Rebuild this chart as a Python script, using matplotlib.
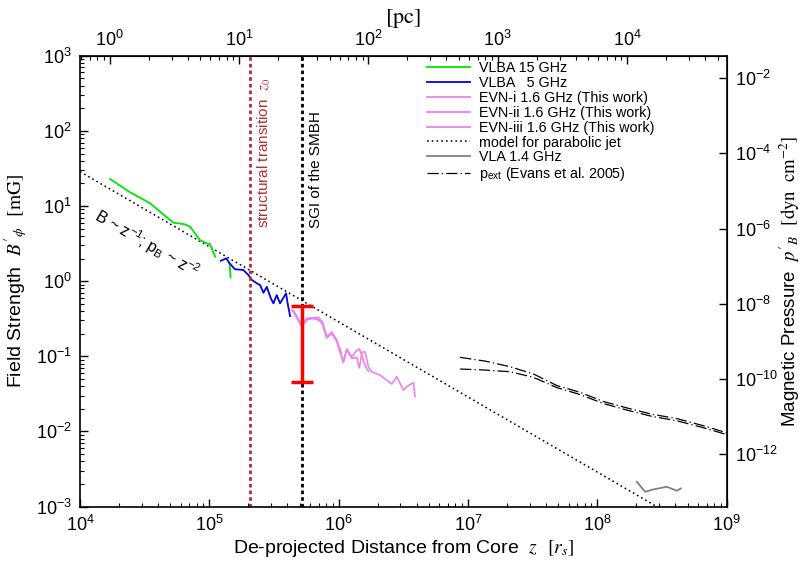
import numpy as np
import matplotlib
matplotlib.use("Agg")
import matplotlib.pyplot as plt
from matplotlib.ticker import LogLocator, NullLocator, FixedLocator
from matplotlib.lines import Line2D

plt.rcParams.update({
    "font.family": ["Liberation Sans", "DejaVu Sans"],
    "mathtext.fontset": "stix",
    "axes.unicode_minus": False,
})

# ---- data: distance z [r_s], toroidal field strength B'_phi [mG] ----
vlba15_z = [1.71e4, 2.44e4, 3.48e4, 4.16e4, 5.27e4, 6.49e4, 7.10e4, 8.47e4,
            9.55e4, 1.01e5, 1.11e5, np.nan, 1.43e5, 1.44e5, 1.46e5]
vlba15_B = [22.9, 15.2, 10.9, 8.4, 6.0, 5.7, 5.3, 3.52,
            3.18, 3.12, 2.11, np.nan, 1.73, 1.55, 1.12]

vlba5_z = [1.23e5, 1.35e5, 1.45e5, 1.58e5, 1.83e5, 2.00e5, 2.13e5, 2.33e5, 2.47e5,
           2.62e5, 2.78e5, 2.99e5, 3.13e5, 3.32e5, 3.52e5, 3.92e5, 4.01e5, 4.21e5]
vlba5_B = [1.87, 2.01, 1.69, 1.44, 1.41, 1.21, 1.04, 0.935, 0.887,
           0.70, 0.84, 0.59, 0.506, 0.653, 0.506, 0.689, 0.532, 0.343]

evn1_z = [4.40e5, 5.19e5, 5.66e5, 6.50e5, 7.45e5, 8.09e5, 8.85e5, 9.66e5, 1.05e6]
evn1_B = [0.41, 0.25, 0.31, 0.325, 0.28, 0.18, 0.205, 0.16, 0.11]

evn2_z = [4.50e5, 5.19e5, 5.66e5, 6.97e5, 7.45e5, 8.09e5, 8.85e5, 9.66e5, 1.086e6,
          1.156e6, 1.262e6, 1.38e6, 1.445e6, 1.517e6, 1.60e6, 1.698e6]
evn2_B = [0.40, 0.26, 0.32, 0.33, 0.29, 0.18, 0.21, 0.165, 0.085,
          0.125, 0.098, 0.12, 0.125, 0.10, 0.075, 0.063]

evn3_z = [4.335e5, 4.69e5, 5.19e5, 5.66e5, 6.22e5, 6.97e5, 7.45e5, 8.09e5, 8.85e5,
          9.66e5, 1.086e6, 1.156e6, 1.262e6, 1.380e6, 1.445e6, 1.517e6, 1.600e6,
          1.698e6, 1.803e6, 2.089e6, 2.576e6, 2.812e6, 3.162e6, 3.499e6, 3.784e6, 3.899e6]
evn3_B = [0.412, 0.343, 0.252, 0.303, 0.318, 0.310, 0.277, 0.175, 0.202,
          0.159, 0.0824, 0.123, 0.0938, 0.0966, 0.0697, 0.114, 0.114,
          0.0724, 0.0617, 0.0562, 0.0427, 0.0537, 0.0355, 0.0414, 0.0444, 0.0289]

vla_z = [2.02e8, 2.34e8, 2.72e8, 3.44e8, 4.12e8, 4.43e8]
vla_B = [2.13e-3, 1.57e-3, 1.69e-3, 1.83e-3, 1.62e-3, 1.74e-3]

# external pressure profiles [dyn cm^-2]
pext_z = [8.69e6, 1.355e7, 2.12e7, 3.21e7, 4.86e7, 7.36e7, 1.114e8, 1.742e8,
          2.64e8, 4.12e8, 6.62e8, 1.0e9]
pext_hi = [3.72e-10, 2.96e-10, 2.09e-10, 1.34e-10, 6.61e-11, 4.35e-11, 2.48e-11,
           1.63e-11, 1.14e-11, 8.71e-12, 5.62e-12, 3.65e-12]
pext_lo = [1.82e-10, 1.71e-10, 1.54e-10, 1.09e-10, 5.83e-11, 3.80e-11, 2.19e-11,
           1.43e-11, 1.00e-11, 7.62e-12, 4.97e-12, 3.27e-12]

# parabolic-jet model B ~ z^-1
model_z = [1e4, 1e9]
model_B = [28.7, 2.87e-4]

# markers
z_transition = 2.07e5
z_sgi = 5.18e5
sgi_B_lo, sgi_B_hi = 0.045, 0.46

RS_PER_PC = 1.7e4


def b_to_p(b):
    b = np.asarray(b, dtype=float)
    return (b * 1e-3) ** 2 / (8 * np.pi)


def p_to_b(p):
    p = np.abs(np.asarray(p, dtype=float))
    return np.sqrt(8 * np.pi * p) * 1e3


fig = plt.figure(figsize=(8.05, 5.66), dpi=100)
ax = fig.add_axes([80 / 805, 1 - 506.5 / 566, 646.7 / 805, 450.7 / 566])
ax.set_xscale("log")
ax.set_yscale("log")
ax.set_xlim(1e4, 1e9)
ax.set_ylim(1e-3, 1e3)

pink = "#ee82ee"
dotted = (0, (1.1, 2))
ax.plot(model_z, model_B, color="black", lw=1.1, ls=dotted)
ax.plot(vlba15_z, vlba15_B, color="#00e600", lw=1.3)
ax.plot(vlba5_z, vlba5_B, color="#0000e6", lw=1.3)
ax.plot(evn1_z, evn1_B, color=pink, lw=1.2)
ax.plot(evn2_z, evn2_B, color=pink, lw=1.2)
ax.plot(evn3_z, evn3_B, color=pink, lw=1.2)
ax.plot(vla_z, vla_B, color="#808080", lw=1.3)
dashdot = (0, (9, 2.5, 1, 2.5))
ax.plot(pext_z, p_to_b(pext_hi), color="black", lw=0.9, ls=dashdot)
ax.plot(pext_z, p_to_b(pext_lo), color="black", lw=0.9, ls=dashdot)

red_brown = "#b03030"
ax.axvline(z_transition, color=red_brown, lw=2.0, ls=(0, (1.3, 1.1)))
ax.axvline(z_sgi, color="black", lw=2.0, ls=(0, (1.3, 1.1)))

mid = np.sqrt(sgi_B_lo * sgi_B_hi)
ax.errorbar([z_sgi], [mid], yerr=[[mid - sgi_B_lo], [sgi_B_hi - mid]], fmt="none",
            ecolor="red", elinewidth=2.5, capsize=8, capthick=2.5, zorder=5)

trans = ax.get_xaxis_transform()
ax.text(2.65e5, 0.618, r"structural transition  $z_0$", rotation=90, transform=trans,
        ha="center", va="bottom", color=red_brown, fontsize=11)
ax.text(6.68e5, 0.618, "SGI of the SMBH", rotation=90, transform=trans,
        ha="center", va="bottom", color="black", fontsize=11)
ax.text(3.3e4, 3.2,
        r"B ~ z$^{\mathdefault{-1}}$; p$_{\mathdefault{B}}$ ~ z$^{\mathdefault{-2}}$",
        rotation=-30, rotation_mode="anchor", ha="center", va="center", fontsize=11.5)

ax.tick_params(which="both", direction="in", top=False, right=False, labelsize=13)
ax.tick_params(which="major", length=6, width=1.0, pad=6)
ax.tick_params(which="minor", length=3, width=0.8)
ax.xaxis.set_major_locator(LogLocator(base=10, numticks=20))
ax.xaxis.set_minor_locator(LogLocator(base=10, subs=np.arange(2, 10), numticks=20))
ax.yaxis.set_major_locator(LogLocator(base=10, numticks=20))
ax.yaxis.set_minor_locator(LogLocator(base=10, subs=np.arange(2, 10), numticks=20))
for s in ax.spines.values():
    s.set_linewidth(1.2)

ax.set_xlabel(r"De-projected Distance from Core  $z$  $[r_s]$", fontsize=14, labelpad=2)
ax.set_ylabel(r"Field Strength  $B'_{\phi}$  $[\mathrm{mG}]$", fontsize=14, labelpad=4)

top = ax.secondary_xaxis("top", functions=(lambda z: np.asarray(z) / RS_PER_PC,
                                            lambda pc: np.asarray(pc) * RS_PER_PC))
top.xaxis.set_major_locator(LogLocator(base=10, numticks=20))
top.xaxis.set_minor_locator(LogLocator(base=10, subs=np.arange(2, 10), numticks=20))
top.tick_params(which="both", direction="in", labelsize=13)
top.tick_params(which="major", length=6, width=1.0, pad=4)
top.tick_params(which="minor", length=3, width=0.8)
top.set_xlabel(r"$[\mathrm{pc}]$", fontsize=16, labelpad=5)

right = ax.secondary_yaxis("right", functions=(b_to_p, p_to_b))
right.yaxis.set_major_locator(FixedLocator([1e-2, 1e-4, 1e-6, 1e-8, 1e-10, 1e-12]))
right.yaxis.set_minor_locator(NullLocator())
right.tick_params(which="major", direction="in", length=6, width=1.0, labelsize=13, pad=6)
right.set_ylabel(r"Magnetic Pressure  $p'_B$  $[\mathrm{dyn\ \ cm}^{-2}]$", fontsize=13.5,
                 labelpad=0)

handles = [
    Line2D([], [], color="#00e600", lw=1.3),
    Line2D([], [], color="#0000e6", lw=1.3),
    Line2D([], [], color=pink, lw=1.3),
    Line2D([], [], color=pink, lw=1.3),
    Line2D([], [], color=pink, lw=1.3),
    Line2D([], [], color="black", lw=1.1, ls=dotted),
    Line2D([], [], color="#808080", lw=1.3),
    Line2D([], [], color="black", lw=0.9, ls=dashdot),
]
labels = [
    "VLBA 15 GHz",
    "VLBA   5 GHz",
    "EVN-i 1.6 GHz (This work)",
    "EVN-ii 1.6 GHz (This work)",
    "EVN-iii 1.6 GHz (This work)",
    "model for parabolic jet",
    "VLA 1.4 GHz",
    r"p$_{\mathdefault{ext}}$ (Evans et al. 2005)",
]
ax.legend(handles, labels, loc="upper left", bbox_to_anchor=(0.536, 0.988),
          frameon=False, fontsize=10.3, labelspacing=0.06, handlelength=3.0,
          handletextpad=0.65, borderaxespad=0, borderpad=0)

fig.savefig("out.png", dpi=100)
